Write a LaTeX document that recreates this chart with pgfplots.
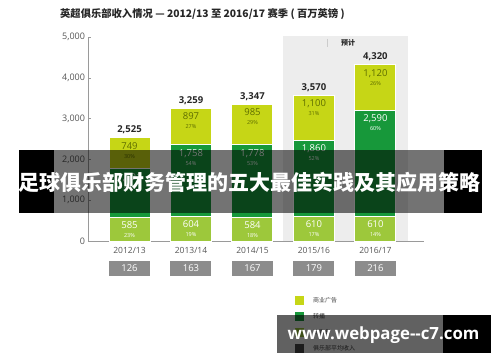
\documentclass[border=0pt]{standalone}
\usepackage{pgfplots}
\pgfplotsset{compat=1.18}
\usepackage{fontspec}
\setmainfont{Open Sans}
\newfontfamily\cjk{Noto Sans CJK SC}
\definecolor{comm}{HTML}{C6D616}
\definecolor{broad}{HTML}{17983A}
\definecolor{match}{HTML}{9DC83B}
\definecolor{fcbg}{HTML}{EDEDED}
\definecolor{txt}{HTML}{555555}
\definecolor{olivetxt}{HTML}{5F6E00}
\definecolor{boxgray}{HTML}{8C8C8C}
\definecolor{axgray}{HTML}{9A9A9A}
\newcommand{\fs}[1]{\fontsize{#1}{#1}\selectfont}
\tikzset{
  seg/.style={anchor=base, inner sep=0pt, font=\fs{9.5}, yshift=-11.5pt},
  pct/.style={anchor=base, inner sep=0pt, font=\fs{5.5}, yshift=-20.5pt},
  tot/.style={anchor=base, inner sep=0pt, font=\bfseries\fs{9.5}, yshift=5pt, text=black!85},
  avg/.style={fill=boxgray, text=white, font=\fs{9.5}, minimum width=41pt, minimum height=15pt, inner sep=0pt, yshift=-27.5pt},
}
\begin{document}
\begin{tikzpicture}[x=1pt,y=1pt]
\begin{scope}[shift={(-88.5,-121)}]
\path[use as bounding box] (0,0) rectangle (500,362);
\fill[fcbg] (283,121) rectangle (408,326);
\node[anchor=base west, inner sep=0pt, text=black!85] at (60,344) {\cjk\bfseries\fs{10.3}英超俱乐部收入情况 — 2012/13 至 2016/17 赛季 ( 百万英镑 )};
\draw[gray!40, line width=0.6pt] (327,323) -- (327,315);
\node[font=\cjk\bfseries\fs{7}, text=black!85, inner sep=0pt] at (348,319) {预计};
\end{scope}
\begin{axis}[
  name=ax,
  scale only axis,
  width=335.5pt, height=204pt,
  xmin=-0.667, xmax=4.79, ymin=0, ymax=5000, clip=false,
  ybar, bar width=0.667, bar shift=0pt,
  axis lines*=left,
  axis line style={draw=axgray, line width=0.6pt},
  xtick={0,...,4}, xticklabels={2012/13,2013/14,2014/15,2015/16,2016/17},
  major x tick style={draw=none},
  ytick={0,1000,...,5000},
  yticklabels={0,{1,000},{2,000},{3,000},{4,000},{5,000}},
  ytick style={draw=axgray, line width=0.6pt},
  tick align=inside, major tick length=2.5pt,
  /pgf/number format/assume math mode=true,
  tick label style={text=txt},
  yticklabel style={font=\fs{9}},
  xticklabel style={font=\fs{8.5}, yshift=-2.5pt},
]
% cumulative tops: total, matchday+broadcast, matchday
\addplot[fill=comm, draw=white, line width=1pt] coordinates {(0,2525) (1,3259) (2,3347) (3,3570) (4,4320)};
\addplot[fill=broad, draw=white, line width=1pt] coordinates {(0,1776) (1,2362) (2,2362) (3,2470) (4,3200)};
\addplot[fill=match, draw=white, line width=1pt] coordinates {(0,585) (1,604) (2,584) (3,610) (4,610)};
\node[seg, text=white] at (axis cs:0,585) {585};
\node[pct, text=white] at (axis cs:0,585) {23\%};
\node[seg, text=white] at (axis cs:1,604) {604};
\node[pct, text=white] at (axis cs:1,604) {19\%};
\node[seg, text=white] at (axis cs:2,584) {584};
\node[pct, text=white] at (axis cs:2,584) {18\%};
\node[seg, text=white] at (axis cs:3,610) {610};
\node[pct, text=white] at (axis cs:3,610) {17\%};
\node[seg, text=white] at (axis cs:4,610) {610};
\node[pct, text=white] at (axis cs:4,610) {14\%};
\node[seg, text=white] at (axis cs:0,1776) {1,191};
\node[pct, text=white] at (axis cs:0,1776) {47\%};
\node[seg, text=white] at (axis cs:1,2362) {1,758};
\node[pct, text=white] at (axis cs:1,2362) {54\%};
\node[seg, text=white] at (axis cs:2,2362) {1,778};
\node[pct, text=white] at (axis cs:2,2362) {53\%};
\node[seg, text=white] at (axis cs:3,2470) {1,860};
\node[pct, text=white] at (axis cs:3,2470) {52\%};
\node[seg, text=white] at (axis cs:4,3200) {2,590};
\node[pct, text=white] at (axis cs:4,3200) {60\%};
\node[seg, text=olivetxt] at (axis cs:0,2525) {749};
\node[pct, text=olivetxt] at (axis cs:0,2525) {30\%};
\node[seg, text=olivetxt] at (axis cs:1,3259) {897};
\node[pct, text=olivetxt] at (axis cs:1,3259) {27\%};
\node[seg, text=olivetxt] at (axis cs:2,3347) {985};
\node[pct, text=olivetxt] at (axis cs:2,3347) {29\%};
\node[seg, text=olivetxt] at (axis cs:3,3570) {1,100};
\node[pct, text=olivetxt] at (axis cs:3,3570) {31\%};
\node[seg, text=olivetxt] at (axis cs:4,4320) {1,120};
\node[pct, text=olivetxt] at (axis cs:4,4320) {26\%};
\node[tot] at (axis cs:0,2525) {2,525};
\node[tot] at (axis cs:1,3259) {3,259};
\node[tot] at (axis cs:2,3347) {3,347};
\node[tot] at (axis cs:3,3570) {3,570};
\node[tot] at (axis cs:4,4320) {4,320};
\node[avg] at (axis cs:0,0) {126};
\node[avg] at (axis cs:1,0) {163};
\node[avg] at (axis cs:2,0) {167};
\node[avg] at (axis cs:3,0) {179};
\node[avg] at (axis cs:4,0) {216};
\end{axis}
\begin{scope}[shift={(-88.5,-121)}]
% legend
\fill[comm] (295,57.5) rectangle (304,66.5);
\fill[broad] (295,41.5) rectangle (304,50.5);
\fill[match] (295,25.5) rectangle (304,34.5);
\fill[black!70] (295,9.5) rectangle (304,18.5);
\node[anchor=west, inner sep=0pt, font=\cjk\fs{6}, text=black!75] at (313,62) {商业广告};
\node[anchor=west, inner sep=0pt, font=\cjk\fs{6}, text=black!75] at (313,46) {转播};
\node[anchor=west, inner sep=0pt, font=\cjk\fs{6}, text=black!75] at (313,30) {比赛日};
\node[anchor=west, inner sep=0pt, font=\cjk\fs{6}, text=black!75] at (313,14) {俱乐部平均收入};
% banner overlay
\fill[black, opacity=0.55] (54,149) rectangle (444,212);
\fill[black] (19,149) rectangle (54,212);
\fill[black] (444,149) rectangle (482,212);
\node[text=white, inner sep=0pt, font=\cjk\bfseries\fs{21}] at (250,180) {足球俱乐部财务管理的五大最佳实践及其应用策略};
% watermark overlay
\fill[black, opacity=0.62] (277,9) rectangle (443,47);
\fill[black] (443,9) rectangle (491,47);
\node[text=white, inner sep=0pt, font=\bfseries\fs{16.8}] at (383.5,27) {www.webpage{-}{-}c7.com};
\end{scope}
\end{tikzpicture}
\end{document}
